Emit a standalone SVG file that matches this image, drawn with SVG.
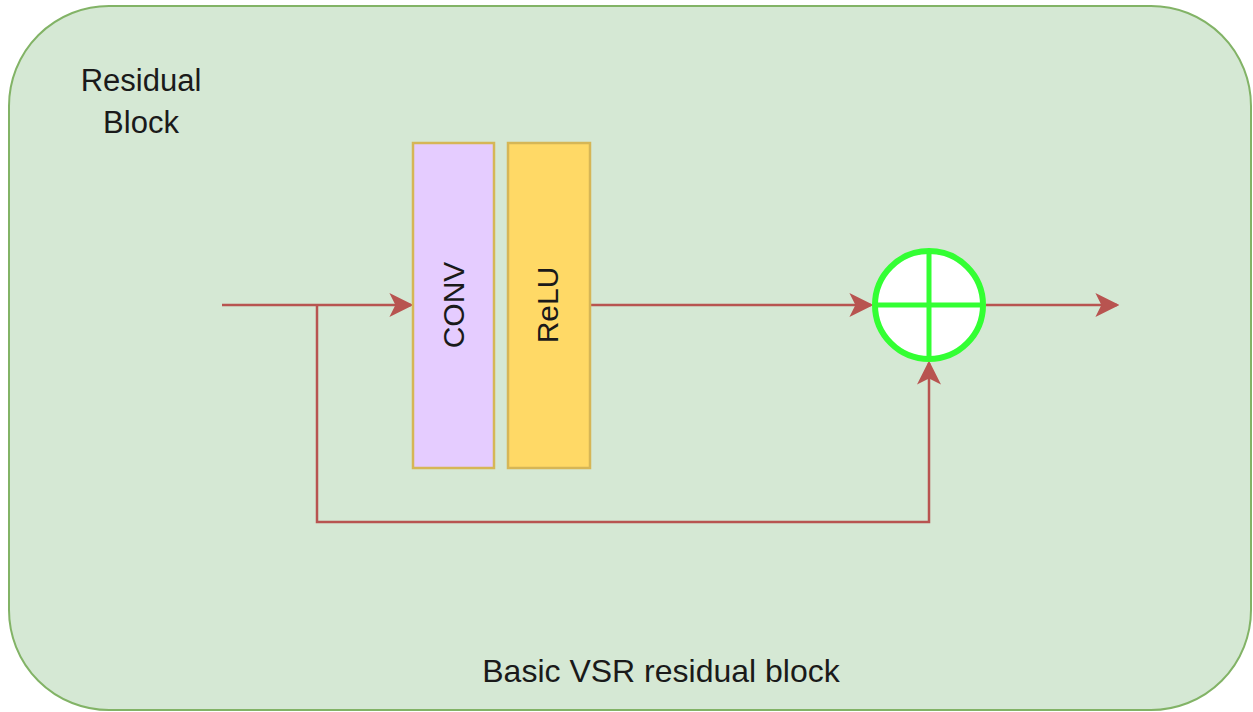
<svg xmlns="http://www.w3.org/2000/svg" width="1253" height="712" viewBox="0 0 1253 712">
<defs>
<style>
.lbl{font-family:"Liberation Sans",Arial,sans-serif;fill:#1a1a1a;}
.edge{fill:none;stroke:#b85450;stroke-width:2.5;}
.blk{stroke:#d6b656;stroke-width:2.5;}
</style>
<marker id="arr" viewBox="0 0 10 10" refX="9" refY="5" markerWidth="9" markerHeight="9" markerUnits="userSpaceOnUse" orient="auto">
<path d="M0,0 L10,5 L0,10 L2.5,5 Z" fill="#b85450"/>
</marker>
<marker id="arrL" viewBox="0 0 10 10" refX="9" refY="5" markerWidth="24" markerHeight="24" markerUnits="userSpaceOnUse" orient="auto">
<path d="M0,0 L10,5 L0,10 L2.5,5 Z" fill="#b85450"/>
</marker>
</defs>
<rect width="1253" height="712" fill="#ffffff"/>
<g id="container">
<rect x="9" y="6" width="1242" height="704" rx="100" ry="100" fill="#d5e8d4" stroke="#82b366" stroke-width="2"/>
<text class="lbl" x="141" y="91" font-size="31" text-anchor="middle">Residual</text>
<text class="lbl" x="141" y="133" font-size="31" text-anchor="middle">Block</text>
<text class="lbl" x="661" y="682" font-size="32" text-anchor="middle">Basic VSR residual block</text>
</g>
<g id="connectors">
<path class="edge" d="M222,305 L411,305" marker-end="url(#arrL)"/>
<path class="edge" d="M317,305 L317,522 L929,522 L929,363" marker-end="url(#arrL)"/>
<path class="edge" d="M590,305 L871,305" marker-end="url(#arrL)"/>
<path class="edge" d="M986,305 L1117,305" marker-end="url(#arrL)"/>
</g>
<g id="conv">
<rect class="blk" x="413" y="143" width="81" height="325" fill="#e5ccff"/>
<text class="lbl" font-size="30" text-anchor="middle" transform="translate(464,305) rotate(-90)">CONV</text>
</g>
<g id="relu">
<rect class="blk" x="508" y="143" width="82" height="325" fill="#ffd966"/>
<text class="lbl" font-size="30" text-anchor="middle" transform="translate(558,305) rotate(-90)">ReLU</text>
</g>
<g id="sum">
<circle cx="929" cy="305" r="54" fill="#ffffff" stroke="#33ff33" stroke-width="6"/>
<line x1="875" y1="305" x2="983" y2="305" stroke="#33ff33" stroke-width="5"/>
<line x1="929" y1="251" x2="929" y2="359" stroke="#33ff33" stroke-width="5"/>
</g>
</svg>
